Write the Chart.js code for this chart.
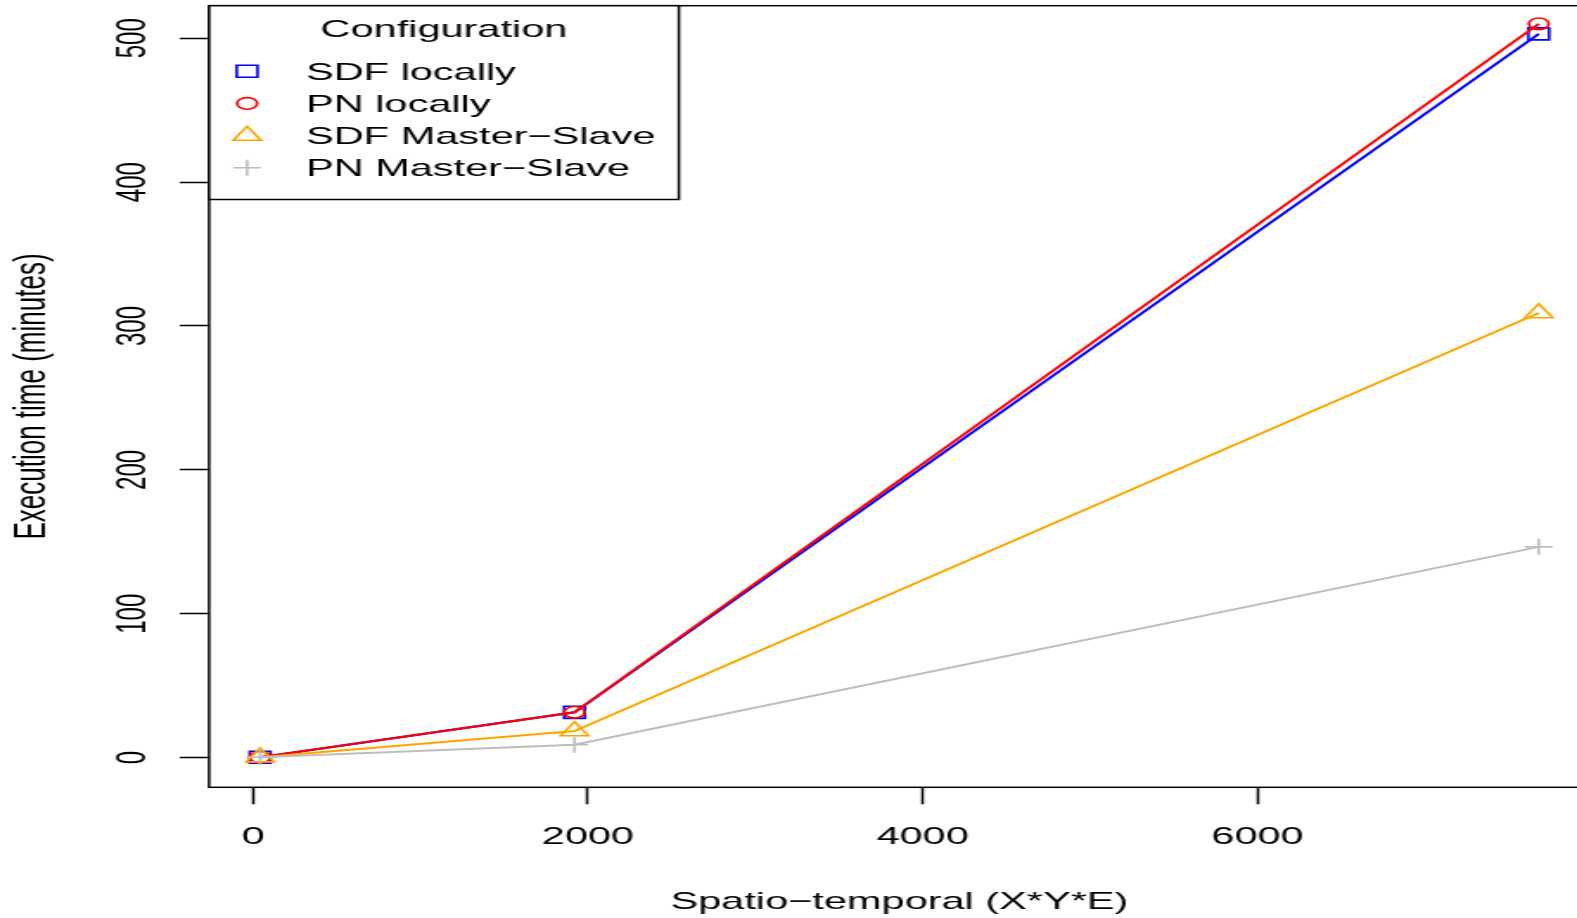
<!DOCTYPE html>
<html lang="en">
    <head>
        <meta charset="UTF-8">
        <title>Execution time</title>
        <style>
            body {
                margin: 0;
                background-color: #ffffff;
                overflow: hidden;
            }

            #chart-container {
                width: 1577px;
                height: 918px;
                overflow: hidden;
            }

            /* the original picture is stretched sideways, so is this canvas */
            #myChart {
                transform: scaleX(1.72917);
                transform-origin: 0 0;
            }
        </style>
    </head>
    <body>
        <div id="chart-container">
            <canvas id="myChart" width="920" height="918"></canvas>
        </div>
        <script src="https://cdn.jsdelivr.net/npm/chart.js"></script>
        <script>
            //data
            let xValues = [42, 1920, 7680];                     //Spatio-temporal (X*Y*E)
            let sdfLocally = [0.3, 31.5, 503];
            let pnLocally = [0.3, 31.5, 510];
            let sdfMasterSlave = [0.3, 18.5, 309];
            let pnMasterSlave = [0.3, 9, 146.5];

            let seriesNames = ['SDF locally', 'PN locally', 'SDF Master\u2212Slave', 'PN Master\u2212Slave'];
            let seriesValues = [sdfLocally, pnLocally, sdfMasterSlave, pnMasterSlave];
            let seriesColors = ['#0000ff', '#ff0000', '#ffa500', '#bebebe'];
            let seriesMarkers = ['rect', 'circle', 'triangle', 'cross'];
            let markerRadius = [8.5, 5.8, 9.3, 8];

            let xTicks = [0, 2000, 4000, 6000];
            let yTicks = [0, 100, 200, 300, 400, 500];

            let fontFamily = '"Liberation Sans", Arial, Helvetica, sans-serif';

            //R style axis ranges (4% extension)
            let xMin = -263, xMax = 7985;
            let yMin = -20.6, yMax = 522.6;

            const datasets = seriesNames.map((name, i) => ({
                label: name,
                data: xValues.map((x, j) => ({x: x, y: seriesValues[i][j]})),
                borderColor: seriesColors[i],
                borderWidth: 2,
                pointStyle: seriesMarkers[i],
                pointRadius: markerRadius[i],
                pointBorderColor: seriesColors[i],
                pointBackgroundColor: 'rgba(0,0,0,0)',
                pointBorderWidth: 1.6,
                tension: 0,
                fill: false,
                order: seriesNames.length - i            //later series on top, like R lines()
            }));

            //box, rotated y tick labels and the legend
            const rPlot = {
                id: 'rPlot',
                beforeDatasetsDraw(chart) {
                    const a = chart.chartArea, c = chart.ctx;
                    c.save();
                    c.strokeStyle = '#000';
                    c.lineWidth = 1.5;
                    c.strokeRect(a.left, a.top, a.right - a.left, a.bottom - a.top);
                    c.restore();
                },
                afterDraw(chart) {
                    const a = chart.chartArea, c = chart.ctx;
                    const ys = chart.scales.y;

                    c.save();
                    c.fillStyle = '#000';
                    c.font = '24px ' + fontFamily;
                    c.textAlign = 'center';
                    c.textBaseline = 'middle';
                    yTicks.forEach(v => {
                        c.save();
                        c.translate(77, ys.getPixelForValue(v));
                        c.rotate(-Math.PI / 2);
                        c.fillText(String(v), 0, 0);
                        c.restore();
                    });
                    c.restore();

                    //legend box top left
                    const lx = a.left, ly = a.top, lw = 392.6 - a.left, lh = 199.5 - a.top;
                    c.save();
                    c.fillStyle = '#fff';
                    c.fillRect(lx, ly, lw, lh);
                    c.strokeStyle = '#000';
                    c.lineWidth = 1.5;
                    c.strokeRect(lx, ly, lw, lh);

                    c.fillStyle = '#000';
                    c.font = '24px ' + fontFamily;
                    c.textAlign = 'center';
                    c.textBaseline = 'alphabetic';
                    c.fillText('Configuration', lx + lw / 2, 37);

                    c.textAlign = 'left';
                    seriesNames.forEach((name, i) => {
                        const sy = 71.2 + i * 32.2;
                        c.fillStyle = '#000';
                        c.fillText(name, 177, sy + 8.3);
                        c.strokeStyle = seriesColors[i];
                        c.fillStyle = 'rgba(0,0,0,0)';
                        c.lineWidth = 1.6;
                        Chart.helpers.drawPoint(c, {
                            pointStyle: seriesMarkers[i],
                            radius: markerRadius[i],
                            rotation: 0,
                            borderWidth: 1.6
                        }, 142.9, sy);
                    });
                    c.restore();
                }
            };

            const config = {
                type: 'line',
                data: {datasets},
                options: {
                    responsive: false,
                    animation: false,
                    layout: {
                        autoPadding: false,
                        padding: {top: 5.7, right: 0.6, left: 0, bottom: 0}
                    },
                    scales: {
                        x: {
                            type: 'linear',
                            min: xMin,
                            max: xMax,
                            afterBuildTicks: s => { s.ticks = xTicks.map(v => ({value: v})); },
                            afterFit: s => { s.height = 130.7; },
                            border: {display: false},
                            grid: {
                                drawOnChartArea: false,
                                drawTicks: true,
                                tickLength: 17,
                                tickColor: '#000',
                                tickWidth: 1.5
                            },
                            ticks: {
                                color: '#000',
                                padding: 18.3,
                                maxRotation: 0,
                                autoSkip: false,
                                callback: v => String(v),
                                font: {family: fontFamily, size: 24}
                            },
                            title: {
                                display: true,
                                text: 'Spatio\u2212temporal (X*Y*E)',
                                color: '#000',
                                padding: {top: 0, bottom: 1.6},
                                font: {family: fontFamily, size: 24}
                            }
                        },
                        y: {
                            type: 'linear',
                            min: yMin,
                            max: yMax,
                            afterBuildTicks: s => { s.ticks = yTicks.map(v => ({value: v})); },
                            afterFit: s => { s.width = 120.9; },
                            border: {display: false},
                            grid: {
                                drawOnChartArea: false,
                                drawTicks: true,
                                tickLength: 17,
                                tickColor: '#000',
                                tickWidth: 1.5
                            },
                            ticks: {display: false},
                            title: {
                                display: true,
                                text: 'Execution time (minutes)',
                                color: '#000',
                                padding: {top: 3.4, bottom: 0},
                                font: {family: fontFamily, size: 26}
                            }
                        }
                    },
                    plugins: {
                        legend: {display: false},
                        tooltip: {enabled: false}
                    }
                },
                plugins: [rPlot]
            };

            const myChart = new Chart(document.getElementById('myChart'), config);
        </script>
    </body>
</html>
